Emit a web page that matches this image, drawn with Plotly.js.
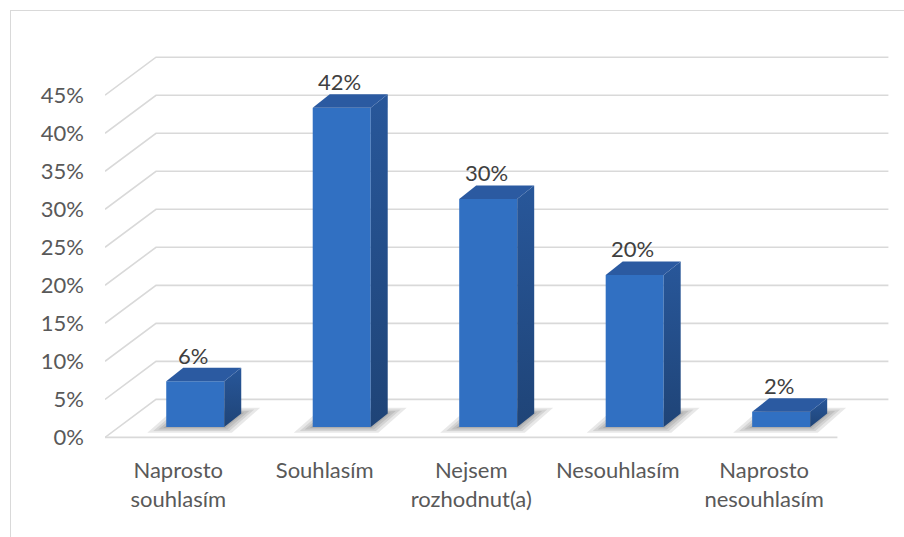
<!DOCTYPE html>
<html>
<head>
<meta charset="utf-8">
<script src="https://cdn.plot.ly/plotly-3.0.1.min.js"></script>
<style>
  html, body { margin: 0; padding: 0; background: #fff; overflow: hidden; }
  #wrap { position: relative; width: 904px; height: 537px; }
  #chart { width: 904px; height: 537px; }
  #frame { position: absolute; left: 10px; top: 10px; width: 1000px; height: 1000px;
           border: 1.5px solid #d9d9d9; pointer-events: none; box-sizing: border-box; }
</style>
</head>
<body>
<div id="wrap">
  <div id="chart"></div>
  <div id="frame"></div>
</div>
<script>
// Survey answers and their shares (%)
const categories = ['Naprosto<br>souhlasím', 'Souhlasím', 'Nejsem<br>rozhodnut(a)', 'Nesouhlasím', 'Naprosto<br>nesouhlasím'];
const shares = [6, 42, 30, 20, 2];
const yTicks = [0, 5, 10, 15, 20, 25, 30, 35, 40, 45];
const yTickLabels = yTicks.map(v => v + '%');

// Pixel scale of the front plane (used to express the oblique 3D offsets in axis units)
const PX_X = 146.48;   // px per category step
const PX_Y = 7.604;    // px per percent
const X_RANGE = [-0.5, 4.9];
const Y_RANGE = [-1, 52];

// Oblique offsets: back wall, bar plane, bar depth
const WX = 51 / PX_X, WY = 38 / PX_Y;
const BX = 17 / PX_X, BY = 10.4 / PX_Y;
const BW = 58 / PX_X;
const DX = 17 / PX_X, DY = 13.5 / PX_Y;

const idx = categories.map((_, i) => i);
const first = -0.5, last = categories.length - 0.5;
const FONT = 'Lato, "Noto Sans", sans-serif';

const traces = [];

// Walls and floor: slanted side-wall segment plus horizontal back-wall line per tick
yTicks.forEach(v => {
  traces.push({
    type: 'scatter', mode: 'lines', xaxis: 'x', yaxis: 'y',
    x: [first, first + WX, last + WX], y: [v, v + WY, v + WY],
    line: { color: '#d9d9d9', width: 1.6 }, hoverinfo: 'skip', showlegend: false
  });
});
// Front edge of the floor
traces.push({
  type: 'scatter', mode: 'lines', xaxis: 'x', yaxis: 'y',
  x: [first, last], y: [0, 0],
  line: { color: '#d9d9d9', width: 1.6 }, hoverinfo: 'skip', showlegend: false
});

// Front faces of the columns
traces.push({
  type: 'bar', xaxis: 'x2', yaxis: 'y2',
  x: idx, y: shares, width: BW,
  marker: { color: '#3170c2', line: { width: 0 } },
  hoverinfo: 'skip', showlegend: false
});

// Side and top faces
idx.forEach(i => {
  const v = shares[i];
  const l = i - BW / 2, r = i + BW / 2;
  traces.push({
    type: 'scatter', mode: 'lines', xaxis: 'x2', yaxis: 'y2', fill: 'toself',
    x: [r, r + DX, r + DX, r, r], y: [0, DY, v + DY, v, 0],
    line: { width: 0, color: 'rgba(0,0,0,0)' },
    fillcolor: '#24508c',
    fillgradient: { type: 'vertical', colorscale: [[0, '#1f4477'], [1, '#28579a']] },
    hoverinfo: 'skip', showlegend: false
  });
  traces.push({
    type: 'scatter', mode: 'lines', xaxis: 'x2', yaxis: 'y2', fill: 'toself',
    x: [l, r, r + DX, l + DX, l], y: [v, v, v + DY, v + DY, v],
    line: { width: 0, color: 'rgba(0,0,0,0)' },
    fillcolor: '#2b5aa1',
    hoverinfo: 'skip', showlegend: false
  });
});

// Soft floor shadows around each column base
const shapes = [];
idx.forEach(i => {
  const l = i - BW / 2, r = i + BW / 2;
  [3, 8, 13, 19].forEach(e => {
    const ex = e / PX_X, ey = (e * 0.3) / PX_Y;
    const pts = [
      [l - ex, -ey], [r + ex * 0.4, -ey],
      [r + DX + ex, DY + ey], [l + DX - ex * 0.4, DY + ey]
    ];
    shapes.push({
      type: 'path', xref: 'x2', yref: 'y2', layer: 'below',
      path: 'M' + pts.map(p => p[0] + ',' + p[1]).join(' L') + ' Z',
      fillcolor: '#000', opacity: 0.09, line: { width: 0 }
    });
  });
});

// Value labels above the columns
const annotations = idx.map(i => ({
  xref: 'x2', yref: 'y2', x: i, y: shares[i],
  text: shares[i] + '%', showarrow: false,
  xanchor: 'center', yanchor: 'middle', xshift: -2, yshift: 26,
  font: { family: FONT, size: 22, color: '#404040' }
}));

const layout = {
  width: 904, height: 537,
  margin: { l: 105, r: 8, t: 42, b: 92 },
  paper_bgcolor: '#ffffff', plot_bgcolor: 'rgba(0,0,0,0)',
  font: { family: FONT, size: 22, color: '#595959' },
  showlegend: false, hovermode: false,
  xaxis: {
    range: X_RANGE, tickvals: idx, ticktext: categories,
    showgrid: false, zeroline: false, showline: false, ticks: '',
    ticklabelstandoff: 10, fixedrange: true
  },
  yaxis: {
    range: Y_RANGE, tickvals: yTicks, ticktext: yTickLabels,
    showgrid: false, zeroline: false, showline: false, ticks: '',
    ticklabelstandoff: 20, fixedrange: true
  },
  xaxis2: {
    overlaying: 'x', range: [X_RANGE[0] - BX, X_RANGE[1] - BX],
    visible: false, fixedrange: true
  },
  yaxis2: {
    overlaying: 'y', range: [Y_RANGE[0] - BY, Y_RANGE[1] - BY],
    visible: false, fixedrange: true
  },
  shapes: shapes,
  annotations: annotations
};

Plotly.newPlot('chart', traces, layout, { displayModeBar: false, staticPlot: true });
</script>
</body>
</html>
